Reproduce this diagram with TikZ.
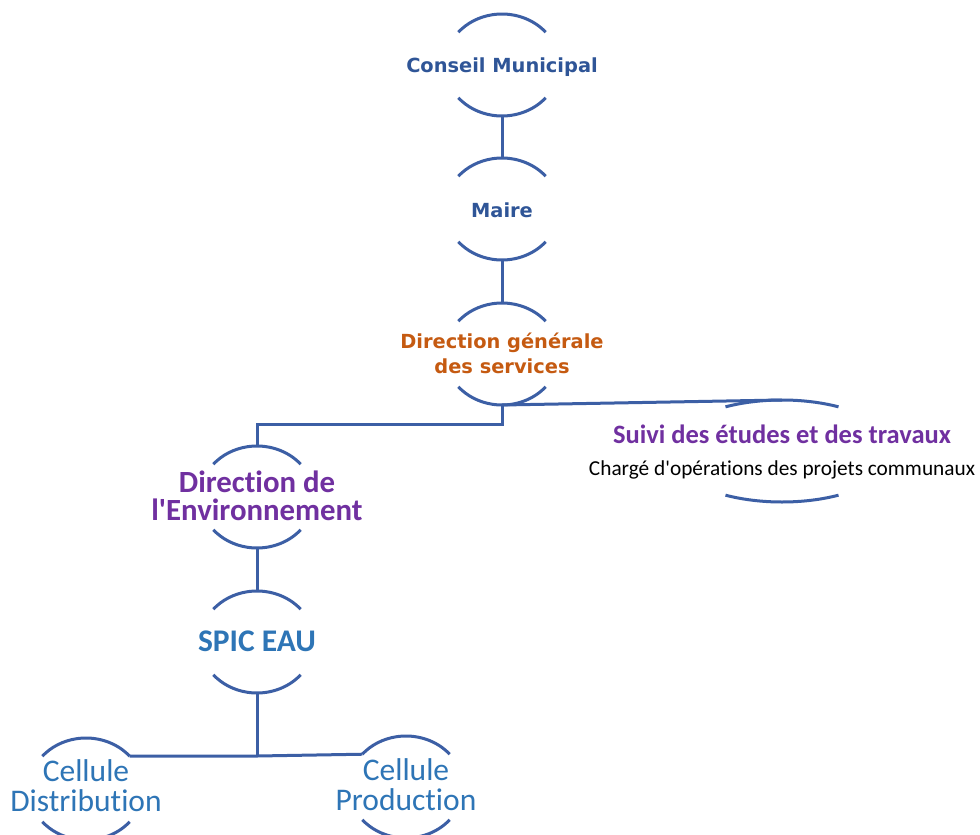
\documentclass[tikz,border=0pt]{standalone}
\usepackage{fontspec}
\usetikzlibrary{calc}
\newfontfamily\dvs{DejaVu Sans}
\newfontfamily\carl[Ligatures={TeX,NoCommon}]{Carlito}
\definecolor{lineblue}{RGB}{60,95,165}
\definecolor{navy}{RGB}{47,85,151}
\definecolor{orng}{RGB}{197,90,17}
\definecolor{purp}{RGB}{112,48,160}
\definecolor{midblue}{RGB}{46,117,182}
% #1 name, #2 x, #3 y (image), #4 rx, #5 ry, #6 half angle
\newcommand\orgunit[6]{%
  \coordinate (#1-c) at (#2,-#3);
  \coordinate (#1-t) at ($(#1-c)+(0,#5)$);
  \coordinate (#1-b) at ($(#1-c)+(0,-#5)$);
  \coordinate (#1-ul) at ($(#1-c)+(180-#6:#4 and #5)$);
  \coordinate (#1-ur) at ($(#1-c)+(#6:#4 and #5)$);
  \draw[arcline] (#1-ur) arc[start angle=#6, end angle=180-#6, x radius=#4, y radius=#5];
  \draw[arcline] ($(#1-c)+(-#6:#4 and #5)$) arc[start angle=-#6, end angle=-180+#6, x radius=#4, y radius=#5];
}
\begin{document}
\begin{tikzpicture}[x=1pt,y=1pt,
  arcline/.style={draw=lineblue,line width=3pt},
  conn/.style={draw=lineblue,line width=3pt},
  lbl/.style={anchor=base,inner sep=0pt,align=center},
  topfont/.style={font={\dvs\bfseries\fontsize{19.4}{25}\selectfont},text=navy},
  orgfont/.style={font={\dvs\bfseries\fontsize{19.4}{25}\selectfont},text=orng},
  envfont/.style={font={\carl\bfseries\fontsize{30.8}{28}\selectfont},text=purp},
  spicfont/.style={font={\carl\bfseries\fontsize{31.5}{30}\selectfont},text=midblue},
  cellfont/.style={font={\carl\fontsize{31.5}{30}\selectfont},text=midblue},
  suivifont/.style={font={\carl\bfseries\fontsize{26.5}{30}\selectfont},text=purp},
  chgfont/.style={font={\carl\fontsize{21.3}{25}\selectfont},text=black}]
\clip (0,0) rectangle (980,-835);
\fill[white] (0,0) rectangle (980,-835);

\orgunit{cm}{502}{65}{57}{51}{40}
\orgunit{maire}{502}{209}{57}{51}{40}
\orgunit{dg}{502}{354}{57}{51}{40}
\orgunit{suivi}{782}{451}{113}{51}{60}
\orgunit{de}{257}{497}{57}{51}{40}
\orgunit{spic}{257}{642}{57}{51}{40}
\orgunit{cd}{86}{789}{57}{51}{40}
\orgunit{cp}{406}{787}{57}{51}{40}

\node[lbl,topfont] (cmt) at (502,-72) {Conseil Municipal};
\node[lbl,topfont] (mairet) at (502,-217) {Maire};
\node[lbl,orgfont] (dgt) at (502,-373) {Direction générale\\des services};
\node[lbl,envfont] (det) at (257,-520) {Direction de\\l\textquotesingle Environnement};
\node[lbl,spicfont] (spict) at (257,-651) {SPIC EAU};
\node[lbl,suivifont] (suivit) at (782,-443) {Suivi des études et des travaux};
\node[lbl,chgfont] (chgt) at (782,-475) {Chargé d\textquotesingle opérations des projets communaux};
\node[lbl,cellfont] (cdt) at (86,-811) {Cellule\\Distribution};
\node[lbl,cellfont] (cpt) at (406,-810) {Cellule\\Production};

\coordinate (dgj) at (502,-424);
\coordinate (spj) at (257,-756);
\draw[conn] (cm-b) -- (maire-t);
\draw[conn] (maire-b) -- (dg-t);
\draw[conn] (dg-b) -- (dgj) -| (de-t);
\draw[conn] (dg-b) -- (suivi-t);
\draw[conn] (de-b) -- (spic-t);
\draw[conn] (spic-b) -- (spj);
\draw[conn] (spj) -- (cd-ur);
\draw[conn] (spj) -- (cp-ul);
\end{tikzpicture}
\end{document}
